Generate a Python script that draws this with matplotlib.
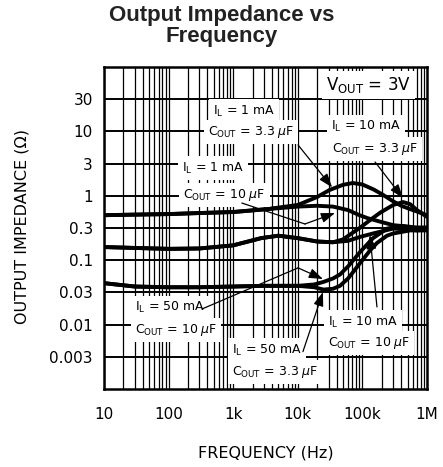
import matplotlib
matplotlib.use("Agg")
import matplotlib.pyplot as plt
from matplotlib.ticker import FixedLocator, NullLocator, LogLocator

plt.rcParams['font.family'] = ['DejaVu Sans']
plt.rcParams['mathtext.fontset'] = 'dejavusans'

# curves: frequency (Hz) and output impedance (ohm)
f_1ma_33 = [10, 30, 100, 300, 1e3, 3.3e3, 10e3, 20e3, 31e3, 50e3, 71e3, 100e3, 150e3, 210e3, 300e3, 400e3, 550e3, 700e3, 1e6]
z_1ma_33 = [0.50, 0.51, 0.52, 0.54, 0.56, 0.62, 0.72, 0.96, 1.23, 1.48, 1.58, 1.50, 1.25, 1.03, 0.82, 0.70, 0.62, 0.57, 0.50]

f_1ma_10 = [10, 30, 100, 300, 1e3, 3.3e3, 10e3, 20e3, 35e3, 60e3, 90e3, 120e3, 200e3, 300e3, 400e3, 600e3, 1e6]
z_1ma_10 = [0.50, 0.51, 0.52, 0.54, 0.56, 0.62, 0.68, 0.70, 0.68, 0.60, 0.50, 0.45, 0.39, 0.35, 0.34, 0.32, 0.32]

f_10ma_33 = [10, 30, 100, 300, 1e3, 2.7e3, 5e3, 10e3, 20e3, 35e3, 50e3, 92e3, 140e3, 190e3, 300e3, 425e3, 550e3, 700e3, 1e6]
z_10ma_33 = [0.16, 0.155, 0.15, 0.152, 0.17, 0.22, 0.24, 0.22, 0.195, 0.19, 0.21, 0.32, 0.44, 0.55, 0.72, 0.80, 0.74, 0.60, 0.47]

f_10ma_10 = [10, 30, 100, 300, 1e3, 2.7e3, 5e3, 10e3, 20e3, 35e3, 60e3, 92e3, 146e3, 300e3, 550e3, 700e3, 1e6]
z_10ma_10 = [0.16, 0.155, 0.15, 0.152, 0.17, 0.22, 0.24, 0.22, 0.195, 0.19, 0.20, 0.23, 0.26, 0.31, 0.30, 0.29, 0.30]

f_50ma_10 = [10, 30, 100, 300, 1e3, 3e3, 10e3, 18e3, 25e3, 35e3, 45e3, 60e3, 92e3, 146e3, 240e3, 425e3, 700e3, 1e6]
z_50ma_10 = [0.044, 0.039, 0.038, 0.038, 0.039, 0.040, 0.040, 0.042, 0.046, 0.052, 0.060, 0.080, 0.134, 0.22, 0.31, 0.34, 0.32, 0.32]

f_50ma_33 = [10, 30, 100, 300, 1e3, 3e3, 10e3, 18e3, 25e3, 35e3, 45e3, 60e3, 92e3, 130e3, 168e3, 240e3, 300e3, 546e3, 1e6]
z_50ma_33 = [0.044, 0.039, 0.038, 0.038, 0.039, 0.040, 0.040, 0.038, 0.035, 0.036, 0.040, 0.052, 0.090, 0.14, 0.185, 0.24, 0.26, 0.29, 0.29]

curves = [(f_1ma_33, z_1ma_33), (f_1ma_10, z_1ma_10), (f_10ma_33, z_10ma_33),
          (f_10ma_10, z_10ma_10), (f_50ma_10, z_50ma_10), (f_50ma_33, z_50ma_33)]

x_ticks = [10, 100, 1e3, 1e4, 1e5, 1e6]
x_labels = ['10', '100', '1k', '10k', '100k', '1M']
y_ticks = [10 ** (k / 2) for k in range(-5, 4)]
y_labels = ['0.003', '0.01', '0.03', '0.1', '0.3', '1', '3', '10', '30']

fig = plt.figure(figsize=(4.43, 4.67), dpi=100)
ax = fig.add_axes([104 / 443, 78 / 467, 323 / 443, 322 / 467])
ax.set_xscale('log')
ax.set_yscale('log')
ax.set_xlim(10, 1e6)
ax.set_ylim(1e-3, 1e2)

for f, z in curves:
    ax.plot(f, z, color='black', lw=2.8, solid_joinstyle='round', zorder=3)

ax.xaxis.set_major_locator(FixedLocator(x_ticks))
ax.set_xticklabels(x_labels)
ax.xaxis.set_minor_locator(LogLocator(base=10, subs=range(2, 10), numticks=20))
ax.yaxis.set_major_locator(FixedLocator(y_ticks))
ax.set_yticklabels(y_labels)
ax.yaxis.set_minor_locator(NullLocator())
ax.tick_params(which='both', length=0, labelsize=11)
ax.tick_params(axis='x', pad=13)
ax.tick_params(axis='y', pad=8)
ax.grid(axis='x', which='both', color='black', lw=0.9)
ax.grid(axis='y', which='major', color='black', lw=1.4)
ax.set_axisbelow(True)
for s in ax.spines.values():
    s.set_linewidth(1.8)

fig.text(0.5, 0.99, 'Output Impedance vs\nFrequency', ha='center', va='top',
         fontsize=16, fontweight='bold', family='Liberation Sans', color='#222222',
         linespacing=1.05)
fig.text(0.5 + 44 / 443, 1 - 453 / 467, 'FREQUENCY (Hz)', ha='center', va='center', fontsize=11.5)
fig.text(22 / 443, 1 - 226 / 467, 'OUTPUT IMPEDANCE (Ω)', ha='center', va='center',
         rotation=90, fontsize=11.5)

box = dict(facecolor='white', edgecolor='none', pad=3)
labels = [
    (0.687, 0.944, r'V$_\mathregular{OUT}$ = 3V', 12),
    (0.337, 0.863, r'I$_\mathregular{L}$ = 1 mA', 9),
    (0.322, 0.798, r'C$_\mathregular{OUT}$ = 3.3 $\mu$F', 9),
    (0.703, 0.814, r'I$_\mathregular{L}$ = 10 mA', 9),
    (0.706, 0.745, r'C$_\mathregular{OUT}$ = 3.3 $\mu$F', 9),
    (0.241, 0.686, r'I$_\mathregular{L}$ = 1 mA', 9),
    (0.245, 0.602, r'C$_\mathregular{OUT}$ = 10 $\mu$F', 9),
    (0.096, 0.252, r'I$_\mathregular{L}$ = 50 mA', 9),
    (0.096, 0.183, r'C$_\mathregular{OUT}$ = 10 $\mu$F', 9),
    (0.396, 0.121, r'I$_\mathregular{L}$ = 50 mA', 9),
    (0.396, 0.053, r'C$_\mathregular{OUT}$ = 3.3 $\mu$F', 9),
    (0.693, 0.208, r'I$_\mathregular{L}$ = 10 mA', 9),
    (0.693, 0.143, r'C$_\mathregular{OUT}$ = 10 $\mu$F', 9),
]
for x, y, s, fs in labels:
    ax.text(x, y, s, transform=ax.transAxes, ha='left', va='center', fontsize=fs,
            bbox=box, zorder=5)

# leader lines: (start, bend or None, arrow tip) in data coords
leaders = [
    ((10.1e3, 6.15), None, (34e3, 1.35)),
    ((157e3, 3.35), None, (425e3, 0.92)),
    ((1.37e3, 0.77), (12.9e3, 0.365), (37.7e3, 0.54)),
    ((330, 0.0175), (10.1e3, 0.076), (24.5e3, 0.051)),
    ((12e3, 0.0038), None, (24.5e3, 0.032)),
    ((168e3, 0.0188), None, (131e3, 0.246)),
]
arrow = dict(arrowstyle='-|>,head_length=0.7,head_width=0.25', lw=0.9, color='black',
             shrinkA=0, shrinkB=0, mutation_scale=12)
for start, bend, tip in leaders:
    tail = start
    if bend is not None:
        ax.plot([start[0], bend[0]], [start[1], bend[1]], color='black', lw=0.9, zorder=6)
        tail = bend
    ax.annotate('', xy=tip, xytext=tail, arrowprops=arrow, zorder=6)

fig.savefig('out.png', dpi=100)
